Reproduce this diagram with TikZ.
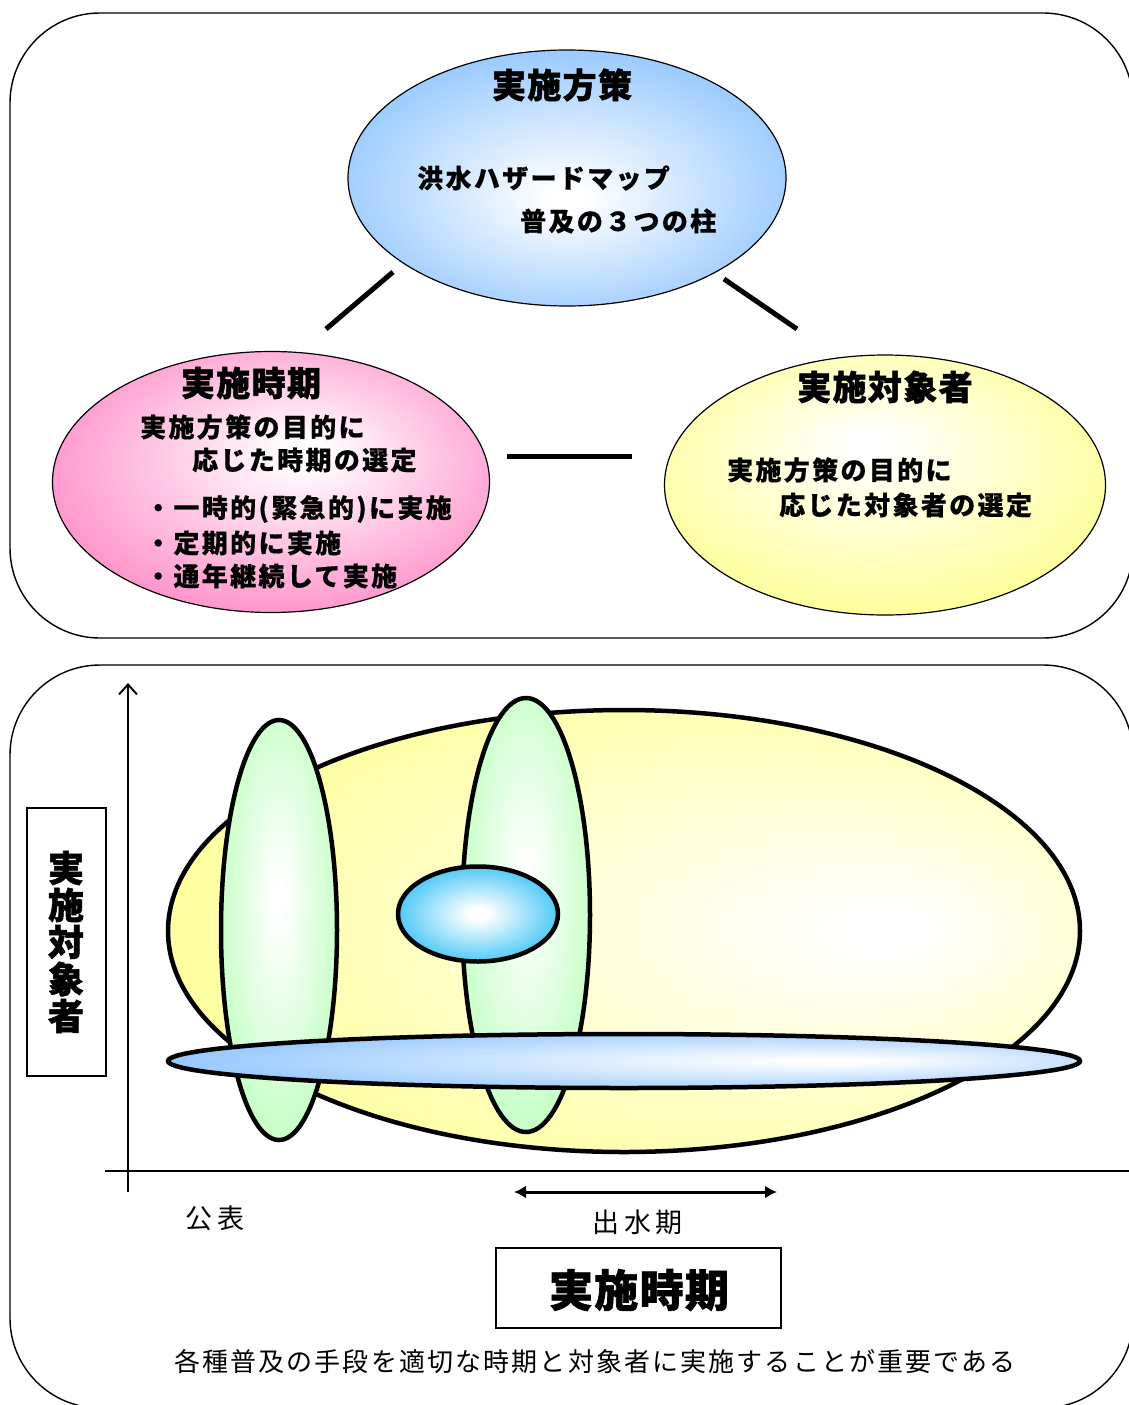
\documentclass[tikz,border=0pt]{standalone}
\usepackage{fontspec}
\newfontfamily\jp{Noto Sans CJK JP}
\usetikzlibrary{shapes.geometric,arrows.meta}
\definecolor{blueF}{RGB}{150,200,255}
\definecolor{pinkF}{RGB}{255,150,205}
\definecolor{yellowF}{RGB}{255,255,150}
\definecolor{greenF}{RGB}{200,255,200}
\definecolor{cyanF}{RGB}{25,185,245}
\pgfdeclareradialshading{shblue}{\pgfpoint{0bp}{-4bp}}{color(0bp)=(white); color(2bp)=(white); color(28bp)=(blueF); color(50bp)=(blueF)}
\pgfdeclareradialshading{shpink}{\pgfpoint{4bp}{6bp}}{color(0bp)=(white); color(2bp)=(white); color(28bp)=(pinkF); color(50bp)=(pinkF)}
\pgfdeclareradialshading{shyellow}{\pgfpoint{-2bp}{8bp}}{color(0bp)=(white); color(2bp)=(white); color(30bp)=(yellowF); color(50bp)=(yellowF)}
\pgfdeclareradialshading{shbigyellow}{\pgfpoint{15bp}{0bp}}{color(0bp)=(white); color(2bp)=(white); color(34bp)=(yellowF); color(50bp)=(yellowF)}
\pgfdeclareradialshading{shgreen}{\pgfpoint{0bp}{4bp}}{color(0bp)=(white); color(2bp)=(white); color(26bp)=(greenF); color(50bp)=(greenF)}
\pgfdeclareradialshading{shcyan}{\pgfpoint{0bp}{0bp}}{color(0bp)=(white); color(3bp)=(white); color(32bp)=(cyanF); color(50bp)=(cyanF)}
\pgfdeclareradialshading{shflat}{\pgfpoint{12bp}{0bp}}{color(0bp)=(white); color(2bp)=(white); color(30bp)=(blueF); color(50bp)=(blueF)}
\tikzset{
  panel/.style={draw=black, line width=1.4pt, rounded corners=90pt},
  topell/.style={ellipse, draw=black, line width=1.2pt, inner sep=0pt},
  botell/.style={ellipse, draw=black, line width=4.5pt, inner sep=0pt},
  link/.style={line width=5pt},
  title/.style={inner sep=0pt, font=\jp\bfseries\fontsize{34}{34}\selectfont\addfontfeature{LetterSpace=4,FakeBold=1.5}},
  body/.style={inner sep=0pt, anchor=west, font=\jp\bfseries\fontsize{26}{26}\selectfont\addfontfeature{LetterSpace=9,FakeBold=0.5}},
  plain/.style={inner sep=0pt, font=\jp\fontsize{27}{27}\selectfont\addfontfeature{LetterSpace=18}},
  caption/.style={inner sep=0pt, font=\jp\fontsize{26}{26}\selectfont\addfontfeature{LetterSpace=8.2}},
  labbox/.style={draw=black, line width=1.4pt},
}
\begin{document}
\begin{tikzpicture}[x=1pt,y=-1pt]
\useasboundingbox (0,0) rectangle (1128,1405);
% ===== top panel =====
\draw[panel] (10,13) rectangle (1133,638);
\node[topell, minimum width=438pt, minimum height=256pt, shading=shblue] (plan) at (567,178) {};
\node[topell, minimum width=437pt, minimum height=261pt, shading=shpink] (time) at (271,482) {};
\node[topell, minimum width=441pt, minimum height=260pt, shading=shyellow] (target) at (885,485) {};
\node[title] (plant) at (562,85) {実施方策};
\node[body] (plan1) at (417,178) {洪水ハザードマップ};
\node[body] (plan2) at (520,221) {普及の３つの柱};
\node[title] (timet) at (251,383) {実施時期};
\node[body] (time1) at (140,427) {実施方策の目的に};
\node[body] (time2) at (192,460) {応じた時期の選定};
\node[body] (time3) at (145,509) {・一時的(緊急的)に実施};
\node[body] (time4) at (145,543) {・定期的に実施};
\node[body] (time5) at (145,576) {・通年継続して実施};
\node[title] (targett) at (885,387) {実施対象者};
\node[body] (target1) at (727,470) {実施方策の目的に};
\node[body] (target2) at (779,505) {応じた対象者の選定};
\coordinate (l1a) at (326,329); \coordinate (l1b) at (393,272);
\coordinate (l2a) at (724,279); \coordinate (l2b) at (797,329);
\coordinate (l3a) at (507,456); \coordinate (l3b) at (632,456);
\draw[link] (l1a) -- (l1b);
\draw[link] (l2a) -- (l2b);
\draw[link] (l3a) -- (l3b);
% ===== bottom panel =====
\draw[panel] (10,665) rectangle (1133,1408);
\coordinate (yb) at (128,1192); \coordinate (yt) at (128,683);
\coordinate (xl) at (105,1171); \coordinate (xr) at (1140,1171);
\draw[line width=2pt, -{Straight Barb[length=10pt,width=18pt,line width=2pt]}] (yb) -- (yt);
\draw[line width=2.5pt] (xl) -- (xr);
\node[botell, minimum width=912pt, minimum height=442pt, shading=shbigyellow] (big) at (624,931) {};
\node[botell, minimum width=116pt, minimum height=420pt, shading=shgreen] (g1) at (279,930) {};
\node[botell, minimum width=128pt, minimum height=434pt, shading=shgreen] (g2) at (526,915) {};
\node[botell, minimum width=160pt, minimum height=95pt, shading=shcyan] (c1) at (478,914) {};
\node[botell, minimum width=912pt, minimum height=54pt, shading=shflat] (flat) at (624,1061) {};
\coordinate (da) at (514,1192); \coordinate (db) at (777,1192);
\draw[line width=3pt, {Latex[length=12pt,width=13pt]}-{Latex[length=12pt,width=13pt]}] (da) -- (db);
\node[plain, anchor=west] (pub) at (185,1218) {公表};
\node[plain, anchor=west] (flood) at (592,1222) {出水期};
\node[labbox, minimum width=285pt, minimum height=80pt, inner sep=0pt] (tbox) at (638.5,1288) {};
\node[inner sep=0pt, font=\jp\bfseries\fontsize{44}{44}\selectfont\addfontfeature{LetterSpace=3,FakeBold=1.5}] (tboxt) at (639,1290) {実施時期};
\node[labbox, minimum width=79pt, minimum height=268pt, inner sep=0pt] (vbox) at (66.5,942) {};
\node[inner sep=0pt, align=center, font=\jp\bfseries\fontsize{36}{37}\selectfont\addfontfeature{FakeBold=1.5}] (vboxt) at (66,942) {実\\施\\対\\象\\者};
\node[caption, anchor=west] (cap) at (174,1362) {各種普及の手段を適切な時期と対象者に実施することが重要である};
\end{tikzpicture}
\end{document}
